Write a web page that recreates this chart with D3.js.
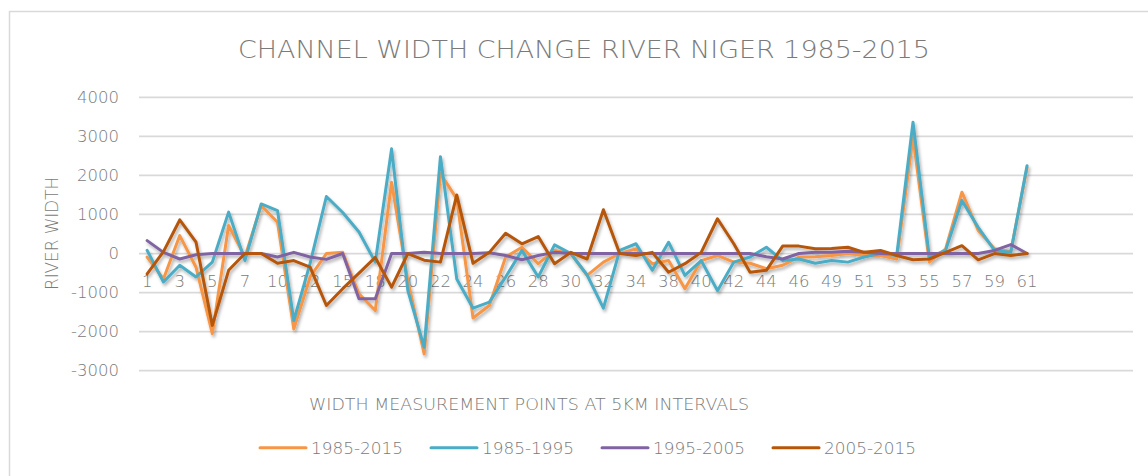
<!DOCTYPE html>
<html>
<head>
<meta charset="utf-8">
<script src="https://cdnjs.cloudflare.com/ajax/libs/d3/7.8.5/d3.min.js"></script>
<style>
  body { margin: 0; background: #fff; }
  text { font-family: "DejaVu Sans", sans-serif; font-weight: 200; fill: #7a7a7a; }
</style>
</head>
<body>
<div id="chart"></div>
<script>
// Measurement point labels (one every 5km, some points missing)
var categories = [1, 2, 3, 4, 5, 6, 7, 8, 10, 11, 12, 13, 15, 16, 18, 19, 20, 21, 22, 23,
  24, 25, 26, 27, 28, 29, 30, 31, 32, 33, 34, 36, 38, 39, 40, 41, 42, 43, 44, 45,
  46, 48, 49, 50, 51, 52, 53, 54, 55, 56, 57, 58, 59, 60, 61];
var slotCount = 61;

var seriesNames = ["1985-2015", "1985-1995", "1995-2005", "2005-2015"];
var seriesColors = ["#f79646", "#4bacc6", "#8064a2", "#b65708"];

var w1985_2015 = [-90, -650, 460, -350, -2050, 720, -90, 1230, 800, -1930,
  -600, 0, 30, -1030, -1460, 1825, -700, -2570, 2050, 1400,
  -1650, -1330, -90, 160, -260, 80, 0, -560, -220, 0,
  120, -260, -180, -900, -180, -50, -220, -250, -390, -300,
  -90, -80, -50, 0, -50, -50, -140, 2980, -220, 120,
  1570, 590, 120, 50, 2200];
var w1985_1995 = [80, -730, -300, -600, -220, 1060, -180, 1270, 1100, -1715,
  -250, 1460, 1050, 550, -220, 2680, -950, -2400, 2480, -650,
  -1400, -1245, -600, 80, -600, 220, 0, -550, -1400, 80,
  250, -430, 290, -560, -180, -950, -220, -90, 160, -180,
  -140, -250, -180, -220, -90, 0, -50, 3360, -90, 80,
  1360, 670, 80, 30, 2250];
var w1995_2005 = [330, 30, -140, -30, 0, 0, 0, 0, -90, 30,
  -90, -150, 0, -1160, -1160, 0, 0, 30, 0, 0,
  0, 20, -50, -160, -50, 30, 0, 0, 0, 0,
  0, 0, 0, 0, 0, 0, 0, 0, -80, -140,
  0, 30, 30, 60, 30, 0, 0, 0, 0, 0,
  0, 0, 80, 230, 0];
var w2005_2015 = [-520, 50, 860, 290, -1840, -430, 0, 0, -250, -180,
  -350, -1330, -900, -500, -100, -860, 0, -170, -220, 1500,
  -250, 30, 520, 250, 435, -260, 30, -140, 1120, 0,
  -50, 30, -480, -260, 30, 890, 250, -480, -430, 190,
  190, 120, 130, 160, 30, 80, -50, -160, -140, 30,
  200, -160, 0, -50, 0];

var yTicks = [-3000, -2000, -1000, 0, 1000, 2000, 3000, 4000];

var seriesValues = [w1985_2015, w1985_1995, w1995_2005, w2005_2015];

var svgWidth = 1148;
var svgHeight = 476;

var margin = { top: 97.3, left: 139, right: 15, bottom: 105.3 };
var width = svgWidth - margin.left - margin.right;
var height = svgHeight - margin.top - margin.bottom;

var svg = d3.select("#chart")
  .append("svg")
  .attr("width", svgWidth)
  .attr("height", svgHeight);

// soft shadow under the lines
var shadow = svg.append("defs").append("filter")
  .attr("id", "shadow")
  .attr("x", "-5%").attr("y", "-5%")
  .attr("width", "110%").attr("height", "120%");
shadow.append("feDropShadow")
  .attr("dx", 1.5)
  .attr("dy", 2.5)
  .attr("stdDeviation", 1.5)
  .attr("flood-color", "#000")
  .attr("flood-opacity", 0.3);

// outer frame
svg.append("rect")
  .attr("x", 9.5)
  .attr("y", 11.5)
  .attr("width", svgWidth + 20)
  .attr("height", svgHeight + 20)
  .attr("fill", "none")
  .attr("stroke", "#d9d9d9")
  .attr("stroke-width", 1.5);

var chartGroup = svg.append("g")
  .attr("transform", `translate(${margin.left}, ${margin.top})`);

// Scales
var xBandScale = d3.scaleBand()
  .domain(d3.range(slotCount))
  .range([0, width]);

var yLinearScale = d3.scaleLinear()
  .domain([-3000, 4000])
  .range([height, 0]);

// Gridlines
chartGroup.append("g")
  .selectAll("line")
  .data(yTicks)
  .enter()
  .append("line")
  .attr("x1", 0)
  .attr("x2", width)
  .attr("y1", d => yLinearScale(d))
  .attr("y2", d => yLinearScale(d))
  .attr("stroke", "#d9d9d9")
  .attr("stroke-width", 1.8);

// Y axis labels
var leftAxis = d3.axisLeft(yLinearScale)
  .tickValues(yTicks)
  .tickFormat(d => String(d))
  .tickSize(0)
  .tickPadding(20);
var yAxisG = chartGroup.append("g").call(leftAxis);
yAxisG.select(".domain").remove();
yAxisG.selectAll("text")
  .attr("fill", "#7a7a7a")
  .style("font-size", "16.5px");

// X axis labels, every second point
var bottomAxis = d3.axisBottom(xBandScale)
  .tickValues(d3.range(0, categories.length, 2))
  .tickFormat(i => categories[i])
  .tickSize(0)
  .tickPadding(0);
var xAxisG = chartGroup.append("g")
  .attr("transform", `translate(0, ${yLinearScale(0)})`)
  .call(bottomAxis);
xAxisG.select(".domain").remove();
xAxisG.selectAll("text")
  .attr("fill", "#7a7a7a")
  .attr("y", 33)
  .attr("dy", null)
  .style("font-size", "16.5px");

// Lines
var line = d3.line()
  .x((d, i) => xBandScale(i) + xBandScale.bandwidth() / 2)
  .y(d => yLinearScale(d));

chartGroup.append("g")
  .attr("filter", "url(#shadow)")
  .selectAll("path")
  .data(seriesValues)
  .enter()
  .append("path")
  .attr("d", d => line(d))
  .attr("fill", "none")
  .attr("stroke", (d, i) => seriesColors[i])
  .attr("stroke-width", 3)
  .attr("stroke-linejoin", "round")
  .attr("stroke-linecap", "round");

// Titles
svg.append("text")
  .attr("x", 584)
  .attr("y", 58)
  .attr("text-anchor", "middle")
  .attr("textLength", 692)
  .attr("lengthAdjust", "spacingAndGlyphs")
  .style("font-size", "25px")
  .text("CHANNEL WIDTH CHANGE RIVER NIGER 1985-2015");

svg.append("text")
  .attr("x", 529)
  .attr("y", 410)
  .attr("text-anchor", "middle")
  .attr("textLength", 440)
  .attr("lengthAdjust", "spacingAndGlyphs")
  .style("font-size", "16.5px")
  .text("WIDTH MEASUREMENT POINTS AT 5KM INTERVALS");

svg.append("text")
  .attr("transform", "translate(58, 233.5) rotate(-90)")
  .attr("text-anchor", "middle")
  .attr("textLength", 113)
  .attr("lengthAdjust", "spacingAndGlyphs")
  .style("font-size", "17px")
  .text("RIVER WIDTH");

// Legend
var legend = svg.append("g")
  .selectAll("g")
  .data(seriesNames)
  .enter()
  .append("g")
  .attr("transform", (d, i) => `translate(${260 + i * 171}, 447.7)`);

legend.append("line")
  .attr("x1", 0)
  .attr("x2", 46)
  .attr("stroke", (d, i) => seriesColors[i])
  .attr("stroke-width", 3)
  .attr("stroke-linecap", "round");

legend.append("text")
  .attr("x", 51)
  .attr("y", 6)
  .attr("textLength", 92)
  .attr("lengthAdjust", "spacingAndGlyphs")
  .style("font-size", "16.5px")
  .text(d => d);
</script>
</body>
</html>
